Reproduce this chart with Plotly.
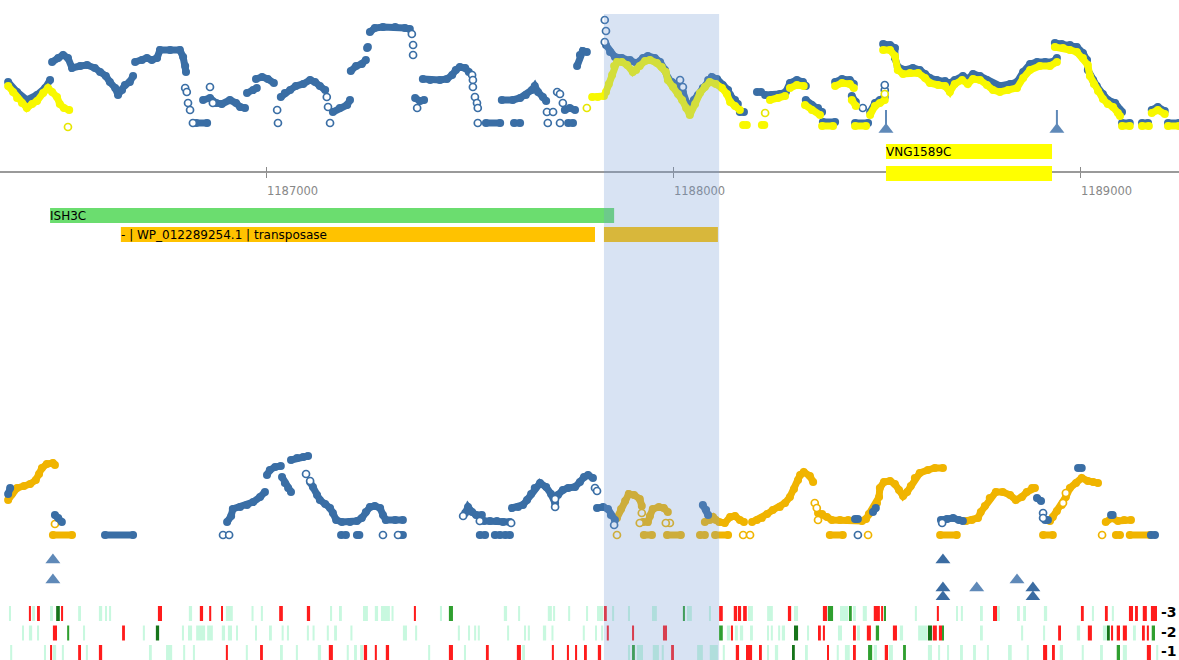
import plotly.graph_objects as go

# ---------------------------------------------------------------- data
# Genomic window shown (bp); every position below is an offset in bp from VIEW_START
VIEW_START = 1186345
VIEW_END = 1189242
AXIS_TICKS = [1187000, 1188000, 1189000]

# Selected region
HIGHLIGHT = [1484, 1767]

# Gene features
GENE_NAMES = ["VNG1589C", "", "ISH3C", "- | WP_012289254.1 | transposase", ""]
GENE_START = [2177, 2177, 123, 297, 1484]
GENE_END = [2585, 2585, 1509, 1462, 1764]
GENE_LANE = [0, 1, 2, 3, 3]
GENE_KIND = ["cds_sel", "cds_sel", "mobile", "cds", "cds"]

# Start-site marks on the upper signal track
TOP_MARKS = [2177, 2597]

# Upper signal track, runs of (offset, level)
TOP_BLUE = [
    [(20, 5.8), (42, 4.8), (66, 4.0), (91, 4.5), (111, 5.2), (123, 6.0)],
    [(128, 7.8), (143, 8.2), (155, 8.5), (167, 8.2), (177, 7.2), (197, 7.4), (214, 7.5), (233, 7.2), (246, 6.8),
     (260, 6.4), (270, 5.8), (283, 5.2), (290, 4.5), (300, 5.0), (307, 5.5), (319, 5.8), (327, 6.4)],
    [(332, 7.8), (349, 8.0), (361, 8.2), (373, 8.0), (386, 8.2), (393, 9.0), (418, 9.0), (442, 9.0), (450, 8.3),
     (455, 7.4), (457, 6.8)],
    [(482, 1.7), (509, 1.7)],
    [(499, 4.0), (516, 4.2), (531, 3.7), (545, 3.6), (565, 4.0), (580, 3.7), (590, 3.3), (602, 3.2)],
    [(607, 4.7), (622, 5.0), (631, 5.2)],
    [(629, 6.1), (644, 6.3), (658, 6.1), (673, 5.7)],
    [(690, 4.3), (700, 4.7), (713, 5.0), (727, 5.4), (745, 5.6), (762, 6.0), (774, 5.8), (786, 5.4), (799, 5.0)],
    [(818, 2.8), (835, 3.2), (853, 3.5), (860, 4.0)],
    [(862, 6.9), (875, 7.4), (889, 7.6), (899, 8.0)],
    [(902, 9.2), (904, 9.3)],
    [(909, 10.8), (921, 11.2), (941, 11.3), (971, 11.3), (995, 11.2), (1007, 11.1)],
    [(1020, 4.2), (1032, 3.9), (1042, 4.0)],
    [(1039, 6.1), (1057, 6.0), (1081, 6.0), (1098, 6.1), (1111, 6.5), (1120, 7.0), (1130, 7.3), (1143, 7.2),
     (1152, 6.8)],
    [(1194, 1.7), (1229, 1.7)],
    [(1263, 1.7), (1278, 1.7)],
    [(1233, 4.0), (1260, 4.0), (1278, 4.2), (1292, 4.5), (1307, 5.0), (1314, 5.4), (1322, 4.8), (1334, 4.3),
     (1342, 3.9)],
    [(1388, 3.0), (1400, 3.2), (1413, 3.0)],
    [(1396, 1.7), (1408, 1.7)],
    [(1418, 7.4), (1425, 8.5), (1432, 8.9), (1442, 8.8)],
    [(1489, 9.5), (1499, 8.8), (1511, 8.3), (1528, 8.2), (1548, 8.0), (1565, 7.7), (1580, 8.2), (1592, 8.4),
     (1609, 8.2), (1622, 7.8), (1634, 7.0), (1641, 6.2), (1651, 5.8), (1666, 5.4), (1678, 4.8), (1690, 3.6),
     (1695, 2.8), (1705, 4.0), (1715, 4.5), (1727, 5.2), (1740, 6.0), (1749, 6.3), (1762, 6.1), (1776, 5.5),
     (1789, 5.0), (1794, 4.5), (1806, 4.0), (1813, 3.6)],
    [(1818, 2.8), (1828, 2.8)],
    [(1860, 4.8), (1870, 4.8)],
    [(1880, 4.5), (1897, 4.5), (1916, 4.6), (1931, 4.8), (1941, 5.7), (1958, 6.0), (1973, 5.8), (1980, 5.4)],
    [(1980, 4.0), (1995, 3.5), (2010, 3.2), (2020, 2.8)],
    [(2022, 1.8), (2052, 1.8)],
    [(2052, 5.8), (2069, 6.1), (2088, 6.0), (2098, 5.6)],
    [(2093, 4.4), (2103, 3.8)],
    [(2101, 1.7), (2133, 1.7)],
    [(2138, 2.8), (2150, 3.7), (2162, 4.0), (2174, 4.3)],
    [(2170, 9.6), (2187, 9.5), (2199, 9.2), (2199, 8.2), (2206, 7.3), (2224, 7.0), (2243, 7.2), (2260, 7.0),
     (2273, 6.6), (2285, 6.2), (2302, 6.0), (2322, 5.9), (2334, 5.7), (2346, 6.0), (2366, 6.4), (2378, 6.1),
     (2391, 6.6), (2408, 6.4), (2425, 6.0), (2440, 5.6), (2457, 5.4), (2482, 5.6), (2499, 5.8), (2514, 6.8),
     (2531, 7.6), (2548, 7.8), (2568, 7.8), (2587, 7.8), (2597, 8.2)],
    [(2592, 9.7), (2609, 9.6), (2629, 9.5), (2646, 9.3), (2661, 8.7), (2671, 8.0), (2673, 7.0), (2686, 6.0),
     (2695, 5.4), (2710, 4.6), (2722, 4.0), (2740, 3.7), (2752, 3.0), (2757, 2.8)],
    [(2757, 1.7), (2776, 1.7)],
    [(2806, 1.7), (2821, 1.7)],
    [(2830, 3.0), (2845, 3.3), (2862, 2.9)],
    [(2870, 1.7), (2897, 1.7)],
]
TOP_BLUE_OPEN = [
    (455, 5.2), (459, 4.8), (462, 3.7), (467, 3.0), (474, 1.7), (516, 5.3), (523, 3.7), (681, 3.0), (683, 1.7),
    (803, 4.3), (806, 3.3), (811, 1.7), (1012, 10.6), (1015, 9.5), (1015, 8.5), (1025, 3.2), (1160, 6.5),
    (1162, 6.0), (1162, 5.3), (1167, 4.3), (1172, 3.7), (1174, 3.2), (1174, 1.7), (1344, 2.8), (1359, 2.8),
    (1369, 4.8), (1376, 4.6), (1383, 3.7), (1376, 1.7), (1346, 1.7), (1486, 12.0), (1489, 10.9), (1486, 9.8),
    (1671, 6.0), (1678, 5.3), (2120, 3.2), (2174, 5.0), (2174, 5.5),
]
TOP_YELLOW = [
    [(20, 5.4), (32, 4.8), (42, 4.2), (54, 3.7), (66, 3.2), (79, 3.6), (91, 3.9), (106, 4.7), (118, 5.2),
     (128, 4.8), (140, 4.3), (147, 3.6), (157, 3.2), (170, 3.0)],
    [(1455, 4.3), (1469, 4.3), (1484, 4.4)],
    [(1489, 4.8), (1496, 5.6), (1504, 6.5), (1509, 7.4), (1516, 7.8), (1528, 7.8), (1541, 7.5), (1555, 6.8),
     (1563, 7.0), (1572, 7.4), (1585, 7.9), (1597, 8.0), (1614, 7.7), (1626, 7.3), (1636, 6.8), (1641, 6.0),
     (1654, 5.3), (1666, 4.6), (1676, 4.0), (1686, 3.2), (1695, 2.5), (1708, 3.6), (1720, 4.7), (1732, 5.3),
     (1744, 5.8), (1759, 5.6), (1774, 5.2), (1786, 4.6), (1794, 3.8), (1806, 3.4), (1818, 3.0)],
    [(1826, 1.5), (1835, 1.5)],
    [(1872, 1.5), (1878, 1.5)],
    [(1892, 4.0), (1912, 4.2), (1929, 4.4)],
    [(1941, 5.2), (1958, 5.5), (1975, 5.4)],
    [(1978, 3.5), (1995, 3.0), (2015, 2.5)],
    [(2020, 1.4), (2047, 1.4)],
    [(2052, 5.4), (2069, 5.7), (2088, 5.6), (2098, 5.2)],
    [(2093, 4.0), (2103, 3.4)],
    [(2101, 1.4), (2128, 1.4)],
    [(2138, 2.5), (2150, 3.4), (2162, 3.7), (2174, 4.0)],
    [(2170, 9.0), (2187, 9.0), (2199, 8.4), (2206, 7.0), (2219, 6.6), (2236, 6.7), (2256, 6.7), (2273, 6.2),
     (2285, 5.7), (2305, 5.5), (2322, 5.4), (2334, 4.8), (2346, 5.6), (2364, 6.0), (2378, 5.6), (2391, 6.1),
     (2408, 6.0), (2425, 5.5), (2440, 5.0), (2457, 4.8), (2477, 5.0), (2499, 5.2), (2514, 6.2), (2531, 7.0),
     (2555, 7.4), (2580, 7.4), (2597, 7.8)],
    [(2592, 9.3), (2612, 9.2), (2629, 9.0), (2646, 8.8), (2661, 8.2), (2673, 7.5), (2678, 6.4), (2688, 5.6),
     (2698, 4.9), (2710, 4.1), (2722, 3.6), (2735, 3.3), (2747, 2.7), (2752, 2.4)],
    [(2757, 1.4), (2776, 1.4)],
    [(2806, 1.4), (2823, 1.4)],
    [(2830, 2.7), (2845, 3.0), (2862, 2.6)],
    [(2870, 1.4), (2897, 1.4)],
]
TOP_YELLOW_OPEN = [(167, 1.3), (1442, 3.2), (1880, 2.7), (2174, 4.6)]

# Lower signal track, runs of (offset, level)
LOW_BLUE = [
    [(20, 5.1), (25, 5.7)],
    [(135, 3.0), (143, 2.7), (152, 2.3)],
    [(258, 1.0), (327, 1.0)],
    [(558, 2.3), (568, 2.9), (572, 3.6), (590, 3.8), (607, 4.0), (622, 4.3), (639, 4.8), (651, 5.3)],
    [(656, 7.0), (663, 7.5), (676, 7.8), (690, 7.9)],
    [(693, 6.8), (700, 6.2), (708, 5.7), (715, 5.3)],
    [(715, 8.5), (730, 8.7), (745, 8.8), (757, 8.9)],
    [(762, 6.3), (769, 5.8), (779, 5.0), (786, 4.5), (799, 4.1), (811, 3.7), (818, 3.2), (826, 2.5), (840, 2.3),
     (860, 2.3), (877, 2.4), (889, 2.7), (899, 3.3), (909, 3.8), (921, 3.9), (934, 3.7), (941, 3.0), (948, 2.5),
     (971, 2.5), (990, 2.5)],
    [(838, 1.0), (850, 1.0)],
    [(877, 1.0), (883, 1.0)],
    [(985, 1.0), (990, 1.0)],
    [(1143, 3.2), (1150, 3.8), (1160, 3.3), (1170, 3.0), (1184, 3.0)],
    [(1189, 2.4), (1204, 2.4), (1221, 2.4), (1236, 2.3), (1253, 2.3)],
    [(1179, 1.0), (1192, 1.0)],
    [(1216, 1.0), (1229, 1.0)],
    [(1241, 1.0), (1253, 1.0)],
    [(1258, 3.7), (1273, 3.8), (1285, 4.0), (1295, 4.5), (1305, 5.1), (1314, 5.7), (1327, 6.2), (1342, 5.8),
     (1354, 5.1), (1364, 4.2)],
    [(1371, 5.0), (1383, 5.5), (1396, 5.7), (1413, 5.8), (1425, 6.3), (1435, 6.8), (1445, 7.0), (1457, 6.7)],
    [(1467, 3.7), (1482, 3.8), (1494, 3.6), (1501, 3.0), (1511, 2.5)],
    [(1727, 4.0), (1735, 3.5), (1740, 3.0)],
    [(2101, 2.6), (2108, 2.6)],
    [(2145, 3.3), (2152, 3.7)],
    [(2312, 2.5), (2327, 2.6), (2342, 2.7), (2356, 2.5), (2366, 2.4)],
    [(2548, 4.7), (2558, 4.4)],
    [(2649, 7.7), (2658, 7.7)],
    [(2568, 2.5), (2575, 2.5)],
    [(2730, 3.0), (2734, 3.0)],
    [(2828, 1.0), (2838, 1.0)],
]
LOW_BLUE_OPEN = [
    (548, 1.0), (563, 1.0), (752, 7.1), (762, 6.4), (941, 1.0), (978, 1.0), (1138, 2.9), (1179, 2.4),
    (1256, 2.2), (1364, 3.8), (1364, 4.6), (1462, 5.7), (1467, 5.4), (1509, 2.0), (2108, 1.0), (2315, 2.2),
    (2563, 3.2), (2563, 2.7),
]
LOW_ORANGE = [
    [(20, 4.5), (29, 5.1), (42, 5.7), (59, 5.9), (74, 6.1), (88, 6.5), (96, 7.1), (103, 7.7), (115, 8.1),
     (130, 8.2), (135, 8.0)],
    [(130, 1.0), (177, 1.0)],
    [(1516, 2.7), (1526, 3.6), (1536, 4.4), (1545, 5.1), (1558, 5.0), (1572, 4.6), (1577, 3.9)],
    [(1580, 2.3), (1592, 2.3), (1597, 2.9), (1604, 3.6), (1619, 3.8), (1631, 3.7), (1641, 3.3)],
    [(1582, 1.0), (1602, 1.0)],
    [(1639, 1.0), (1673, 1.0)],
    [(1720, 1.0), (1732, 1.0)],
    [(1757, 1.0), (1789, 1.0)],
    [(1732, 2.3), (1744, 2.5), (1752, 2.8), (1759, 2.5)],
    [(1767, 2.3), (1781, 2.2), (1794, 2.8), (1806, 2.9), (1818, 2.5), (1828, 2.3)],
    [(1848, 2.3), (1860, 2.5), (1872, 2.7), (1885, 3.1), (1899, 3.5), (1916, 3.8), (1929, 4.2), (1941, 4.8),
     (1951, 5.6), (1961, 6.5), (1966, 7.0), (1975, 7.3), (1990, 6.9), (1998, 6.3)],
    [(2010, 3.2), (2020, 3.1), (2032, 2.8), (2044, 2.5), (2064, 2.5), (2084, 2.5), (2101, 2.5), (2118, 2.4),
     (2128, 2.6), (2135, 3.1), (2145, 3.5), (2155, 4.2), (2160, 4.8), (2162, 5.7), (2172, 6.3), (2187, 6.4),
     (2199, 6.1), (2209, 5.5), (2219, 4.9), (2229, 5.3), (2238, 5.9), (2248, 6.7), (2260, 7.2), (2280, 7.5),
     (2297, 7.7), (2317, 7.7)],
    [(2039, 1.0), (2071, 1.0)],
    [(2374, 2.4), (2388, 2.5), (2403, 2.7), (2410, 3.3), (2420, 3.9), (2432, 4.7), (2447, 5.3), (2464, 5.3),
     (2482, 5.0), (2496, 4.5), (2511, 4.8), (2523, 5.3), (2536, 5.7), (2543, 5.7)],
    [(2310, 1.0), (2351, 1.0)],
    [(2563, 1.0), (2587, 1.0)],
    [(2580, 2.4), (2587, 2.8), (2597, 3.4), (2609, 4.0), (2619, 4.8), (2629, 5.7), (2644, 6.2), (2658, 6.7),
     (2673, 6.4), (2686, 6.3), (2698, 6.2)],
    [(2717, 2.3), (2732, 2.7), (2747, 2.4), (2762, 2.5), (2779, 2.5)],
    [(2742, 1.0), (2752, 1.0)],
    [(2776, 1.0), (2826, 1.0)],
]
LOW_ORANGE_OPEN = [
    (135, 2.1), (1516, 1.0), (1577, 3.2), (1572, 2.2), (1646, 2.2), (1636, 2.2), (1826, 1.0), (1843, 1.0),
    (2002, 4.2), (2007, 3.7), (2010, 2.5), (2133, 1.0), (2612, 4.2), (2619, 5.2), (2708, 1.0),
]

# Peak marks below the lower track: offset, stack level, kind
LOW_MARK_POS = [130, 130, 2317, 2317, 2317, 2400, 2499, 2538, 2538]
LOW_MARK_LEVEL = [4.5, 2.5, 4.5, 1.7, 0.8, 1.7, 2.5, 1.7, 0.8]
LOW_MARK_KIND = ["weak", "weak", "strong", "strong", "strong", "weak", "weak", "strong", "strong"]

# Frame rows: (start offset, end offset, class) m=weak, r=stop, g=start, d=strong start
HEAT_M3 = [
    (22, 27, 'm'), (71, 76, 'r'), (79, 86, 'm'), (91, 98, 'r'), (123, 130, 'm'), (138, 147, 'd'), (150, 155, 'r'),
    (192, 199, 'm'), (243, 251, 'm'), (258, 263, 'm'), (268, 273, 'm'), (388, 398, 'r'), (464, 472, 'm'),
    (491, 499, 'r'), (514, 519, 'r'), (543, 548, 'r'), (555, 572, 'm'), (618, 623, 'm'), (641, 646, 'm'),
    (686, 695, 'r'), (754, 762, 'r'), (811, 816, 'm'), (833, 840, 'm'), (892, 904, 'm'), (921, 929, 'm'),
    (936, 958, 'm'), (962, 967, 'm'), (1017, 1022, 'r'), (1081, 1086, 'm'), (1103, 1113, 'g'), (1238, 1246, 'm'),
    (1273, 1278, 'm'), (1346, 1356, 'm'), (1359, 1364, 'm'), (1396, 1401, 'm'), (1440, 1445, 'm'),
    (1467, 1482, 'm'), (1484, 1491, 'r'), (1504, 1509, 'm'), (1543, 1548, 'm'), (1602, 1614, 'm'),
    (1678, 1683, 'g'), (1688, 1700, 'm'), (1742, 1747, 'm'), (1767, 1776, 'r'), (1803, 1811, 'r'),
    (1813, 1821, 'r'), (1826, 1835, 'r'), (1838, 1850, 'm'), (1885, 1899, 'm'), (1936, 1944, 'r'),
    (1951, 1961, 'm'), (2022, 2032, 'r'), (2034, 2047, 'g'), (2064, 2084, 'm'), (2086, 2093, 'g'),
    (2096, 2103, 'm'), (2120, 2130, 'm'), (2147, 2162, 'r'), (2165, 2170, 'r'), (2172, 2177, 'g'),
    (2248, 2253, 'm'), (2302, 2307, 'r'), (2349, 2354, 'm'), (2361, 2366, 'm'), (2408, 2415, 'm'),
    (2440, 2450, 'r'), (2450, 2457, 'm'), (2499, 2506, 'm'), (2514, 2521, 'm'), (2565, 2573, 'm'),
    (2656, 2663, 'r'), (2683, 2688, 'm'), (2715, 2722, 'r'), (2732, 2737, 'm'), (2774, 2784, 'r'),
    (2789, 2796, 'r'), (2808, 2818, 'r'), (2828, 2843, 'r'),
]
HEAT_M2 = [
    (54, 59, 'm'), (71, 79, 'm'), (91, 96, 'm'), (130, 140, 'r'), (165, 170, 'g'), (204, 209, 'm'), (300, 307, 'r'),
    (351, 356, 'm'), (383, 391, 'd'), (447, 452, 'm'), (462, 472, 'm'), (482, 504, 'm'), (509, 523, 'm'),
    (545, 553, 'm'), (560, 570, 'm'), (580, 584, 'm'), (627, 631, 'm'), (661, 668, 'm'), (692, 697, 'm'),
    (705, 710, 'm'), (754, 759, 'm'), (768, 773, 'm'), (803, 808, 'm'), (821, 828, 'm'), (861, 866, 'm'),
    (990, 1000, 'm'), (1020, 1025, 'm'), (1125, 1130, 'm'), (1150, 1155, 'm'), (1165, 1170, 'm'),
    (1174, 1179, 'm'), (1246, 1251, 'm'), (1288, 1292, 'm'), (1297, 1302, 'm'), (1334, 1342, 'm'),
    (1355, 1360, 'm'), (1432, 1437, 'm'), (1462, 1467, 'm'), (1477, 1482, 'm'), (1491, 1496, 'r'),
    (1553, 1558, 'r'), (1629, 1639, 'r'), (1767, 1776, 'g'), (1786, 1794, 'm'), (1796, 1801, 'r'),
    (1806, 1813, 'm'), (1818, 1826, 'm'), (1843, 1850, 'm'), (1885, 1889, 'm'), (1894, 1899, 'm'),
    (1912, 1917, 'm'), (1921, 1929, 'm'), (1951, 1961, 'd'), (1983, 1988, 'm'), (2010, 2017, 'r'),
    (2022, 2027, 'r'), (2059, 2069, 'm'), (2096, 2103, 'r'), (2106, 2113, 'm'), (2130, 2140, 'r'),
    (2152, 2160, 'g'), (2194, 2204, 'r'), (2211, 2219, 'm'), (2256, 2278, 'm'), (2280, 2290, 'd'),
    (2292, 2302, 'r'), (2307, 2315, 'r'), (2315, 2319, 'g'), (2408, 2415, 'm'), (2509, 2514, 'm'),
    (2563, 2568, 'm'), (2600, 2607, 'r'), (2646, 2654, 'm'), (2673, 2683, 'r'), (2710, 2720, 'm'),
    (2720, 2727, 'd'), (2730, 2735, 'r'), (2744, 2752, 'r'), (2759, 2769, 'r'), (2784, 2791, 'm'),
    (2806, 2813, 'r'), (2818, 2823, 'r'), (2830, 2838, 'g'),
]
HEAT_M1 = [
    (25, 30, 'm'), (108, 113, 'm'), (123, 128, 'r'), (130, 138, 'm'), (152, 157, 'm'), (192, 199, 'r'),
    (211, 216, 'm'), (243, 251, 'r'), (366, 373, 'm'), (408, 423, 'm'), (450, 455, 'm'), (474, 479, 'm'),
    (555, 560, 'r'), (604, 609, 'm'), (639, 646, 'r'), (688, 695, 'm'), (727, 732, 'm'), (781, 789, 'm'),
    (808, 818, 'r'), (852, 857, 'm'), (870, 877, 'm'), (885, 892, 'm'), (894, 902, 'r'), (921, 926, 'r'),
    (948, 956, 'r'), (1052, 1057, 'm'), (1103, 1113, 'r'), (1140, 1145, 'm'), (1194, 1201, 'r'),
    (1270, 1280, 'r'), (1283, 1290, 'm'), (1356, 1361, 'r'), (1393, 1398, 'r'), (1413, 1418, 'r'),
    (1435, 1442, 'r'), (1469, 1477, 'r'), (1543, 1548, 'm'), (1553, 1560, 'g'), (1565, 1580, 'm'),
    (1604, 1619, 'm'), (1626, 1631, 'm'), (1649, 1656, 'r'), (1713, 1727, 'm'), (1744, 1764, 'm'),
    (1776, 1781, 'm'), (1808, 1816, 'r'), (1833, 1848, 'r'), (1865, 1872, 'r'), (1885, 1889, 'm'),
    (1904, 1912, 'm'), (1946, 1953, 'd'), (1978, 1985, 'm'), (2032, 2037, 'r'), (2056, 2061, 'm'),
    (2076, 2088, 'm'), (2096, 2103, 'r'), (2133, 2143, 'g'), (2147, 2155, 'm'), (2174, 2182, 'r'),
    (2184, 2194, 'm'), (2219, 2226, 'g'), (2280, 2290, 'm'), (2305, 2310, 'm'), (2327, 2332, 'm'),
    (2359, 2366, 'm'), (2391, 2398, 'm'), (2425, 2430, 'm'), (2477, 2486, 'm'), (2523, 2528, 'm'),
    (2563, 2573, 'r'), (2585, 2592, 'r'), (2604, 2612, 'm'), (2658, 2663, 'm'), (2703, 2710, 'm'),
    (2744, 2752, 'g'), (2759, 2769, 'm'), (2818, 2828, 'r'), (2841, 2846, 'm'),
]
FRAME_LABELS = ["-3", "-2", "-1"]
FRAME_ROWS = [HEAT_M3, HEAT_M2, HEAT_M1]

# ---------------------------------------------------------------- style
W, H = 1179, 660
BLUE = "#3a6ea5"
YELLOW = "#f8f800"
ORANGE = "#f0b400"
MARK_LIGHT = "#5f89b8"
MARK_DARK = "#3b6ca2"
GENE_COLORS = {"cds_sel": "#ffff00", "mobile": "#6bdd6f", "cds": "#ffc200"}
LANE_Y = {0: 9.85, 1: 7.65, 2: 3.45, 3: 1.55}
HEAT_COLORS = {"m": "#c8f8df", "r": "#ff1c1c", "g": "#2f9f2f", "d": "#16741a"}
FRAME_BASE = {"-3": 3.9, "-2": 1.95, "-1": 0.0}
FONT = "DejaVu Sans"


def pos(o):
    return VIEW_START + o


def dom(top_px, bottom_px):
    return [1 - bottom_px / H, 1 - top_px / H]


def runs(segments):
    xs, ys = [], []
    for seg in segments:
        for o, v in seg:
            xs.append(pos(o))
            ys.append(v)
        xs.append(None)
        ys.append(None)
    return xs, ys


def run_trace(segments, color, yaxis, lw=7, ms=8):
    xs, ys = runs(segments)
    return go.Scatter(x=xs, y=ys, mode="lines+markers", xaxis="x", yaxis=yaxis,
                      line=dict(color=color, width=lw),
                      marker=dict(color=color, size=ms, line=dict(width=0)),
                      hoverinfo="skip", showlegend=False)


def open_trace(points, color, yaxis):
    return go.Scatter(x=[pos(o) for o, _ in points], y=[v for _, v in points], mode="markers",
                      xaxis="x", yaxis=yaxis,
                      marker=dict(color="white", size=7, line=dict(color=color, width=1.7)),
                      hoverinfo="skip", showlegend=False)


fig = go.Figure()

# upper signal track
fig.add_trace(run_trace(TOP_BLUE, BLUE, "y"))
fig.add_trace(open_trace(TOP_BLUE_OPEN, BLUE, "y"))
fig.add_trace(run_trace(TOP_YELLOW, YELLOW, "y"))
fig.add_trace(open_trace(TOP_YELLOW_OPEN, "#e6e600", "y"))

# start-site marks: thin stem with a triangle foot
stem_x, stem_y = [], []
for p in TOP_MARKS:
    stem_x += [pos(p), pos(p), None]
    stem_y += [1.0, 3.0, None]
fig.add_trace(go.Scatter(x=stem_x, y=stem_y, mode="lines", xaxis="x", yaxis="y",
                         line=dict(color=MARK_LIGHT, width=2), hoverinfo="skip", showlegend=False))
fig.add_trace(go.Scatter(x=[pos(p) for p in TOP_MARKS], y=[1.05] * len(TOP_MARKS), mode="markers",
                         xaxis="x", yaxis="y",
                         marker=dict(symbol="triangle-up", size=13, color=MARK_LIGHT, line=dict(width=0)),
                         hoverinfo="skip", showlegend=False))

# gene features
fig.add_trace(go.Bar(orientation="h",
                     y=[LANE_Y[l] for l in GENE_LANE],
                     x=[e - s for s, e in zip(GENE_START, GENE_END)],
                     base=[pos(s) for s in GENE_START],
                     width=1.5, xaxis="x", yaxis="y2",
                     marker=dict(color=[GENE_COLORS[k] for k in GENE_KIND], line=dict(width=0)),
                     hoverinfo="skip", showlegend=False))

# lower signal track
fig.add_trace(run_trace(LOW_ORANGE, ORANGE, "y3"))
fig.add_trace(open_trace(LOW_ORANGE_OPEN, ORANGE, "y3"))
fig.add_trace(run_trace(LOW_BLUE, BLUE, "y3"))
fig.add_trace(open_trace(LOW_BLUE_OPEN, BLUE, "y3"))

# peak marks
fig.add_trace(go.Scatter(x=[pos(p) for p in LOW_MARK_POS], y=LOW_MARK_LEVEL, mode="markers",
                         xaxis="x", yaxis="y4",
                         marker=dict(symbol="triangle-up", size=13,
                                     color=[MARK_DARK if k == "strong" else MARK_LIGHT for k in LOW_MARK_KIND],
                                     line=dict(width=0)),
                         hoverinfo="skip", showlegend=False))

# frame rows
for label, row in zip(FRAME_LABELS, FRAME_ROWS):
    fig.add_trace(go.Bar(x=[pos((s + e) / 2) for s, e, _ in row],
                         y=[1.5] * len(row),
                         base=FRAME_BASE[label],
                         width=[e - s for s, e, _ in row],
                         xaxis="x", yaxis="y5",
                         marker=dict(color=[HEAT_COLORS[c] for _, _, c in row], line=dict(width=0)),
                         hoverinfo="skip", showlegend=False))

# carriers for the coordinate axis
fig.add_trace(go.Scatter(x=[None], y=[None], xaxis="x2", yaxis="y", showlegend=False, hoverinfo="skip"))
fig.add_trace(go.Scatter(x=[None], y=[None], xaxis="x3", yaxis="y", showlegend=False, hoverinfo="skip"))

annotations = []
for name, s, lane in zip(GENE_NAMES, GENE_START, GENE_LANE):
    if name:
        annotations.append(dict(x=pos(s), y=LANE_Y[lane], xref="x", yref="y2", text=name,
                                showarrow=False, xanchor="left", yanchor="middle", xshift=-2,
                                font=dict(family=FONT, size=12, color="black")))
for label in FRAME_LABELS:
    annotations.append(dict(x=1.0, y=FRAME_BASE[label] + 0.9, xref="paper", yref="y5", text="<b>%s</b>" % label,
                            showarrow=False, xanchor="right", yanchor="middle",
                            font=dict(family=FONT, size=14, color="black")))

axis_pos = 1 - 172 / H
hidden = dict(visible=False, fixedrange=True, showgrid=False, zeroline=False)
fig.update_layout(
    width=W, height=H, margin=dict(l=0, r=0, t=0, b=0),
    paper_bgcolor="white", plot_bgcolor="white", showlegend=False, barmode="overlay",
    xaxis=dict(range=[VIEW_START, VIEW_END], domain=[0, 1], **hidden),
    xaxis2=dict(overlaying="x", anchor="free", position=axis_pos, range=[VIEW_START, VIEW_END],
                tickmode="array", tickvals=AXIS_TICKS, ticktext=[str(t) for t in AXIS_TICKS],
                ticks="outside", ticklen=5, tickwidth=1, tickcolor="#8a8a8a",
                showline=True, linecolor="#9a9a9a", linewidth=2, layer="below traces",
                ticklabelshift=26, ticklabelstandoff=3,
                tickfont=dict(family=FONT, size=11.5, color="#888888"),
                showgrid=False, zeroline=False, fixedrange=True),
    xaxis3=dict(overlaying="x", anchor="free", position=axis_pos, range=[VIEW_START, VIEW_END],
                tickmode="array", tickvals=AXIS_TICKS, ticks="inside", ticklen=5, tickwidth=1,
                tickcolor="#8a8a8a", showticklabels=False, showline=False,
                showgrid=False, zeroline=False, fixedrange=True),
    yaxis=dict(domain=dom(10, 140), range=[0, 13], **hidden),
    yaxis2=dict(domain=dom(140, 250), range=[0, 11], **hidden),
    yaxis3=dict(domain=dom(445, 545), range=[0, 10], **hidden),
    yaxis4=dict(domain=dom(545, 605), range=[0, 6], **hidden),
    yaxis5=dict(domain=dom(600, 660), range=[0, 6], **hidden),
    shapes=[dict(type="rect", xref="x", yref="paper", x0=pos(HIGHLIGHT[0]), x1=pos(HIGHLIGHT[1]),
                 y0=0, y1=1 - 14 / H, fillcolor="rgb(116,153,211)", opacity=0.28,
                 line=dict(width=0), layer="above")],
    annotations=annotations,
)

fig.write_html("out.html")
